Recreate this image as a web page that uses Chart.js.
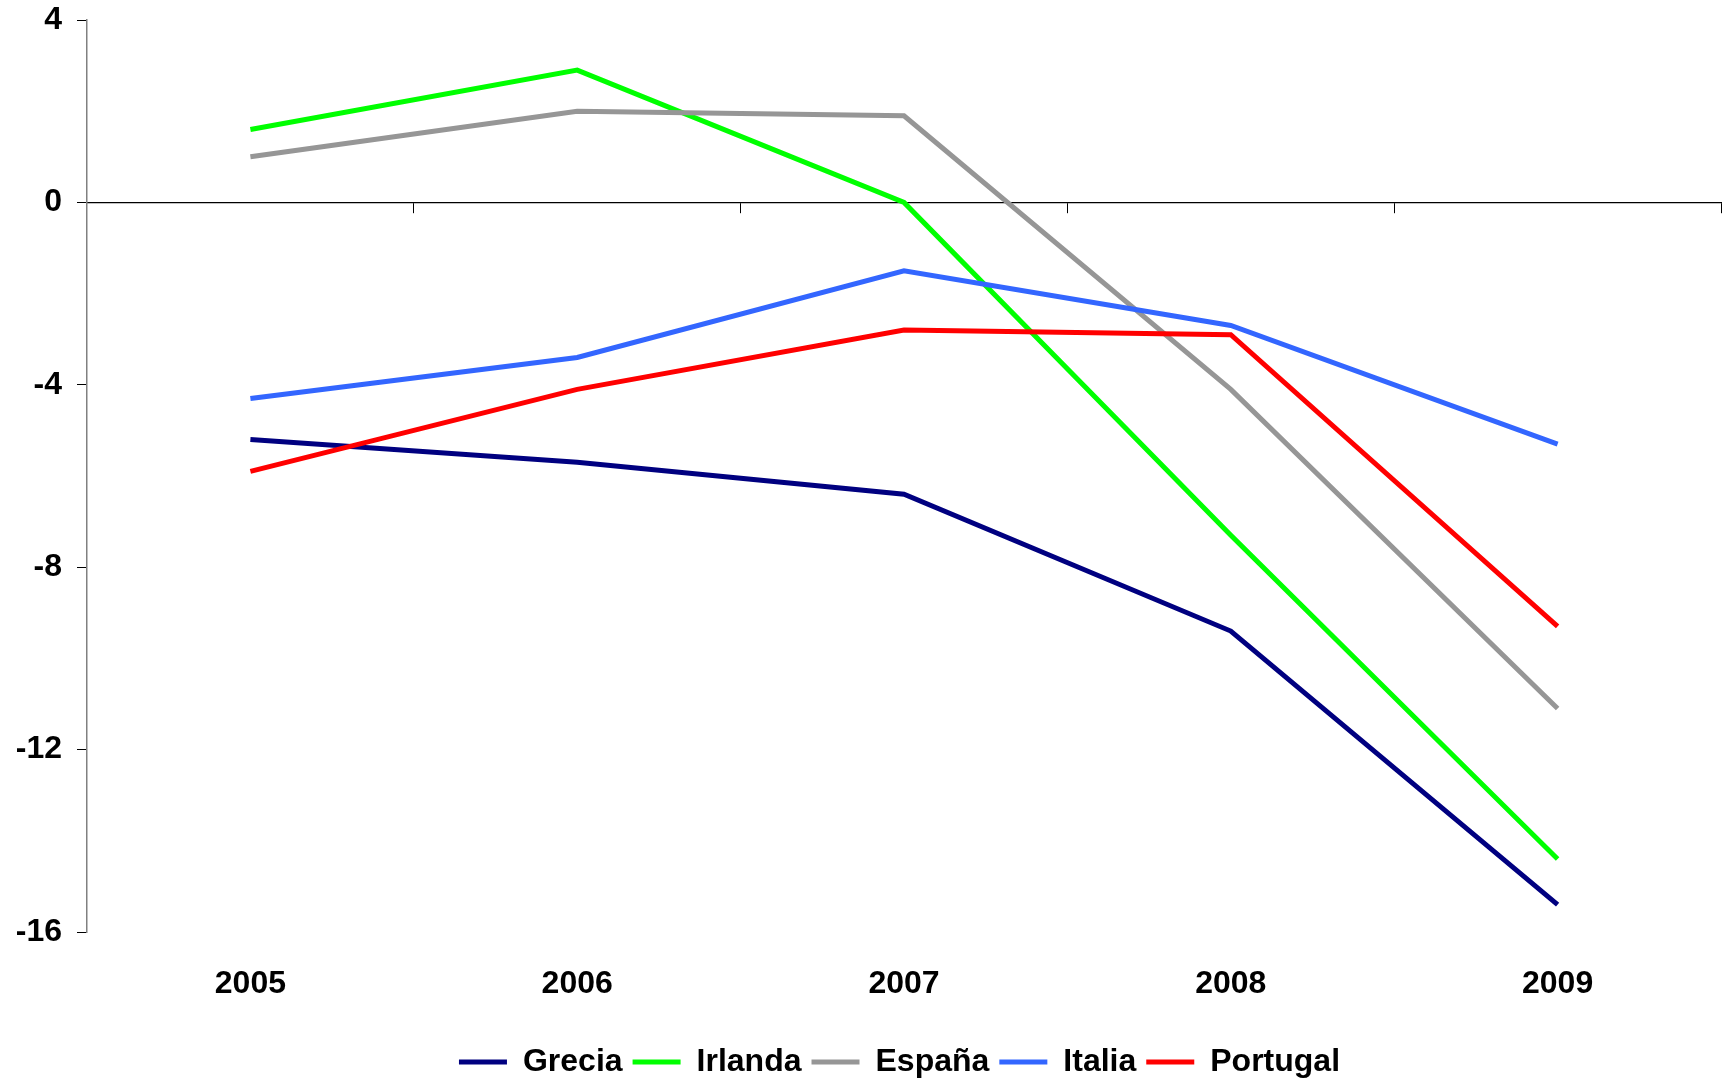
<!DOCTYPE html>
<html>
<head>
<meta charset="utf-8">
<script src="https://cdn.jsdelivr.net/npm/chart.js@4.4.1/dist/chart.umd.min.js"></script>
<style>
html,body{margin:0;padding:0;background:#fff;}
#wrap{width:1729px;height:1080px;position:relative;}
</style>
</head>
<body>
<div id="wrap"><canvas id="c" width="1729" height="1080"></canvas></div>
<script>
const years = ['2005', '2006', '2007', '2008', '2009'];
const grecia = [-5.2, -5.7, -6.4, -9.4, -15.4];
const irlanda = [1.6, 2.9, 0.0, -7.3, -14.4];
const espana = [1.0, 2.0, 1.9, -4.1, -11.1];
const italia = [-4.3, -3.4, -1.5, -2.7, -5.3];
const portugal = [-5.9, -4.1, -2.8, -2.9, -9.3];
const yMin = -16, yMax = 4, yStep = 4;

const FONT = "'Liberation Sans', Arial, sans-serif";

function ds(label, data, color, order) {
  return {label, data, borderColor: color, backgroundColor: color, borderWidth: 5,
    borderJoinStyle: 'miter', borderCapStyle: 'butt',
    pointRadius: 0, pointHoverRadius: 0, tension: 0, fill: false, order, xAxisID: 'x', yAxisID: 'y'};
}

const legendShift = {
  id: 'legendShift',
  afterLayout(chart) {
    const l = chart.legend;
    if (l) { l.left += 39; l.right += 39; l.top += 8; l.bottom += 8; }
  }
};

const chart = new Chart(document.getElementById('c'), {
  type: 'line',
  data: {
    labels: years,
    datasets: [
      ds('Grecia', grecia, '#000080', 5),
      ds('Irlanda', irlanda, '#00FF00', 4),
      ds('España', espana, '#969696', 3),
      ds('Italia', italia, '#3366FF', 2),
      ds('Portugal', portugal, '#FF0000', 1)
    ]
  },
  plugins: [legendShift],
  options: {
    responsive: false,
    animation: false,
    events: [],
    layout: {padding: {left: 0, right: 8, top: 20, bottom: 0}},
    plugins: {
      tooltip: {enabled: false},
      legend: {
        position: 'bottom',
        labels: {
          font: {family: FONT, size: 32, weight: 'bold'},
          color: '#000',
          boxWidth: 48,
          boxHeight: 5,
          padding: 10,
          sort: (a, b) => a.datasetIndex - b.datasetIndex,
          generateLabels: (chart) => chart.data.datasets.map((d, i) => ({
            text: d.label, fillStyle: d.borderColor, strokeStyle: d.borderColor,
            lineWidth: 0, hidden: false, datasetIndex: i, fontColor: '#000'
          }))
        }
      }
    },
    scales: {
      x: {
        type: 'category',
        position: 'bottom',
        offset: true,
        grid: {display: false, drawTicks: false},
        border: {display: false},
        ticks: {font: {family: FONT, size: 32, weight: 'bold'}, color: '#000', padding: 33, maxRotation: 0},
        afterFit: (s) => { s.height = 96; }
      },
      x2: {
        type: 'category',
        labels: years,
        position: {y: 0},
        offset: true,
        grid: {display: true, offset: true, drawOnChartArea: false, drawTicks: true, tickLength: 10, color: '#000', lineWidth: 1},
        border: {display: true, color: '#000', width: 1.2},
        ticks: {display: false}
      },
      y: {
        type: 'linear',
        min: yMin,
        max: yMax,
        grid: {display: true, drawOnChartArea: false, drawTicks: true, tickLength: 10, color: '#000', lineWidth: 1},
        border: {display: true, color: '#808080', width: 1.5},
        ticks: {stepSize: yStep, font: {family: FONT, size: 32, weight: 'bold'}, color: '#000', padding: 15},
        afterFit: (s) => { s.width = 87; s.paddingTop = 0; s.paddingBottom = 0; }
      }
    }
  }
});
</script>
</body>
</html>
